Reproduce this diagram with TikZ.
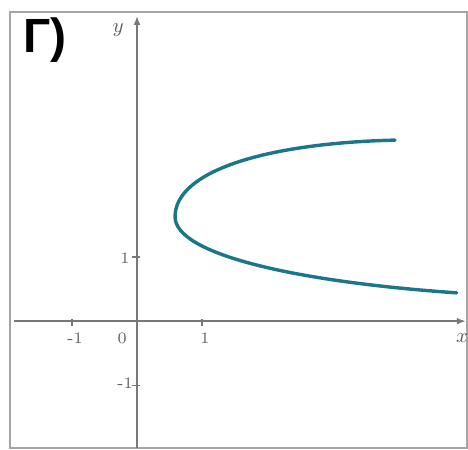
\documentclass[tikz,border=0pt]{standalone}
\usepackage{fontspec}
\usepackage{tikz}
\usetikzlibrary{arrows.meta}
\newfontfamily\cyrfont{Liberation Sans}
\definecolor{grTeal}{RGB}{28,118,138}
\definecolor{grAxis}{RGB}{120,120,120}
\definecolor{grFrame}{RGB}{165,165,165}
\definecolor{grLabel}{RGB}{95,95,95}

\begin{document}
\begin{tikzpicture}[
    x=1cm, y=0.985cm,
    axis line/.style={draw=grAxis, line width=0.9pt, -{Latex[length=4pt,width=3pt]}},
    tick mark/.style={draw=grAxis, line width=0.6pt},
    tick label/.style={font=\scriptsize, text=grLabel, inner sep=1pt},
    curve line/.style={draw=grTeal, line width=1.5pt, line cap=round}
]
  \useasboundingbox (-2.108,-2.0) rectangle (5.092,5.016);
  \draw[grFrame, line width=1pt] (-1.954,-1.984) rectangle (5.077,4.83);

  % axes
  \coordinate (xstart) at (-1.89,0);
  \coordinate (xend) at (5.06,0);
  \coordinate (ystart) at (0,-1.98);
  \coordinate (yend) at (0,4.77);
  \draw[axis line] (xstart) -- (xend);
  \draw[axis line] (ystart) -- (yend);

  % ticks
  \foreach \t in {-1,1} {
    \draw[tick mark] (\t,0.04) -- (\t,-0.07);
    \draw[tick mark] (-0.07,\t) -- (0.04,\t);
  }

  \node[tick label] (xm1) at (-0.954,-0.266) {-1};
  \node[tick label] (x0) at (-0.23,-0.266) {0};
  \node[tick label] (x1) at (1.046,-0.266) {1};
  \node[tick label] (y1) at (-0.185,0.984) {1};
  \node[tick label] (ym1) at (-0.185,-0.97) {-1};
  \node[tick label, font=\small\itshape] (xlab) at (5.0,-0.27) {$x$};
  \node[tick label, font=\small\itshape] (ylab) at (-0.29,4.55) {$y$};

  % heading
  \node[font=\cyrfont\bfseries\fontsize{21}{24}\selectfont, inner sep=0pt] (title) at (-1.415,4.39) {Г)};

  % curve
  \coordinate (top) at (3.969,2.828);
  \coordinate (tip) at (0.585,1.63);
  \coordinate (low) at (4.918,0.442);
  \draw[curve line] (top) .. controls (2.0,2.78) and (0.585,2.35) .. (tip)
    .. controls (0.585,1.05) and (2.4,0.62) .. (low);
\end{tikzpicture}
\end{document}
